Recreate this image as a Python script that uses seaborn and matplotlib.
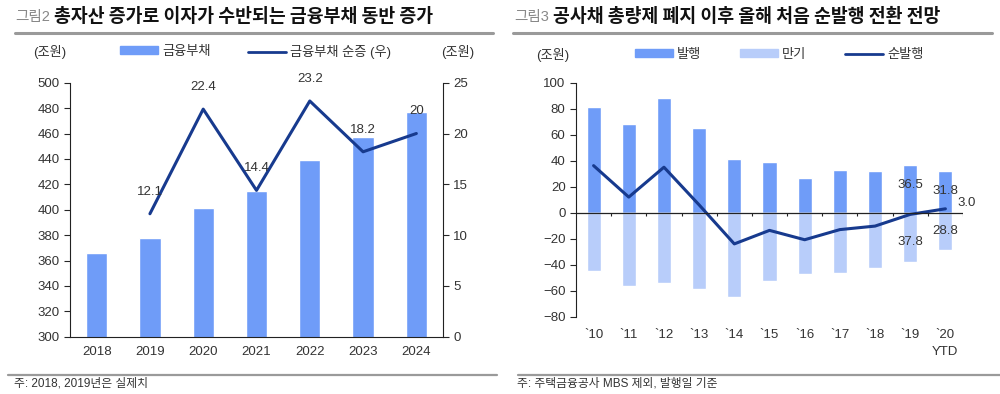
import numpy as np
import pandas as pd
import seaborn as sns
import matplotlib.pyplot as plt
from matplotlib.lines import Line2D
from matplotlib.patches import Patch

sns.set_style("white")
plt.rcParams["font.family"] = ["Liberation Sans", "Noto Sans CJK KR", "DejaVu Sans"]

# left chart: 금융부채 (조원) and 순증 (조원, right axis)
years = ["2018", "2019", "2020", "2021", "2022", "2023", "2024"]
debt = [366, 378, 401, 415, 439, 457, 477]
net_incr = [np.nan, 12.1, 22.4, 14.4, 23.2, 18.2, 20.0]
net_labels = ["", "12.1", "22.4", "14.4", "23.2", "18.2", "20"]

# right chart: 공사채 발행 / 만기 / 순발행 (조원)
periods = ["`10", "`11", "`12", "`13", "`14", "`15", "`16", "`17", "`18", "`19", "`20\nYTD"]
issue = [81, 68, 88.5, 65, 41, 39, 27, 33, 32, 36.5, 31.8]
mature = [-45, -56.4, -53.8, -59, -65, -52.6, -47.2, -46.2, -42.3, -37.8, -28.8]
net_issue = [36.2, 12, 35, 6, -24, -13.6, -20.8, -13, -10.3, -1.3, 3.0]

BLUE = "#6f9cf8"
LIGHT = "#b8cdfa"
NAVY = "#173a8e"
TXT = "#333333"
FS = 9.5

fig = plt.figure(figsize=(10, 3.94), dpi=100)


def fx(px):
    return px / 1000


def fy(py):
    return 1 - py / 394


def legend_item(handle, label, x, y):
    # one legend entry anchored at a pixel position
    fig.legend(handles=[handle], labels=[label], loc="center left",
               bbox_to_anchor=(fx(x), fy(y)), frameon=False, borderpad=0,
               borderaxespad=0, handlelength=2.9, handleheight=0.55,
               handletextpad=0.3, fontsize=FS, labelcolor=TXT)


# ---------------- headers / rules / footers ----------------
fig.text(fx(15), fy(17), "그림2", fontsize=10.5, color="#888888", va="center")
fig.text(fx(54), fy(17), "총자산 증가로 이자가 수반되는 금융부채 동반 증가",
         fontsize=13.2, fontweight="bold", color="#111111", va="center",
         family=["Noto Sans CJK KR"])
fig.text(fx(514), fy(17), "그림3", fontsize=10.5, color="#888888", va="center")
fig.text(fx(553), fy(17), "공사채 총량제 폐지 이후 올해 처음 순발행 전환 전망",
         fontsize=13.2, fontweight="bold", color="#111111", va="center",
         family=["Noto Sans CJK KR"])
for x0, x1 in [(15, 493), (513, 992)]:
    fig.add_artist(Line2D([fx(x0), fx(x1)], [fy(32.5), fy(32.5)], color="#9a9a9a", lw=2.2))
for x0, x1 in [(8, 497), (518, 1000)]:
    fig.add_artist(Line2D([fx(x0), fx(x1)], [fy(375), fy(375)], color="#9a9a9a", lw=1.6))
fig.text(fx(14), fy(384), "주: 2018, 2019년은 실제치", fontsize=8.5, color=TXT, va="center")
fig.text(fx(517), fy(384), "주: 주택금융공사 MBS 제외, 발행일 기준", fontsize=8.5, color=TXT, va="center")

# ---------------- left chart ----------------
ax = fig.add_axes([0.070, 1 - 336.7 / 394, 0.373, 254 / 394])
df_l = pd.DataFrame({"year": years, "debt": debt, "net": net_incr})
sns.barplot(data=df_l, x="year", y="debt", color=BLUE, saturation=1, width=0.4, ax=ax)
ax.set_ylim(300, 500)
ax.set_yticks(np.arange(300, 501, 20))
ax.set_xlim(-0.5, len(years) - 0.5)
ax.set_xlabel("")
ax.set_ylabel("")
ax2 = ax.twinx()
sns.lineplot(x=np.arange(len(years)), y=df_l["net"], color=NAVY, lw=2.2, ax=ax2)
ax2.set_ylim(0, 25)
ax2.set_yticks(np.arange(0, 26, 5))
ax2.set_ylabel("")
for i, (v, lab) in enumerate(zip(net_incr, net_labels)):
    if lab:
        ax2.annotate(lab, (i, v), xytext=(0, 16), textcoords="offset points",
                     ha="center", va="center", fontsize=FS, color=TXT)

for a in (ax, ax2):
    a.spines["top"].set_visible(False)
    for s in ("left", "right", "bottom"):
        a.spines[s].set_color("#222222")
ax.spines["right"].set_visible(False)
ax2.spines["left"].set_visible(False)
ax2.spines["bottom"].set_visible(False)
ax.set_xticks(np.arange(-0.5, len(years), 1), minor=True)
ax.tick_params(axis="x", which="major", length=0, pad=7, labelsize=FS, labelcolor=TXT)
ax.tick_params(axis="x", which="minor", length=4, direction="out", color="#222222")
ax.tick_params(axis="y", length=4, direction="out", labelsize=FS, labelcolor=TXT, left=True)
ax2.tick_params(axis="y", length=4, direction="out", labelsize=FS, labelcolor=TXT, right=True)

# legend row
fig.text(fx(50), fy(52), "(조원)", fontsize=FS, color=TXT, ha="center", va="center")
fig.text(fx(458), fy(52), "(조원)", fontsize=FS, color=TXT, ha="center", va="center")
legend_item(Patch(color=BLUE), "금융부채", 120, 52)
legend_item(Line2D([], [], color=NAVY, lw=2), "금융부채 순증 (우)", 248, 52)

# ---------------- right chart ----------------
bx = fig.add_axes([0.576, 1 - 316.7 / 394, 0.387, 234 / 394])
df_r = pd.DataFrame({"period": periods, "issue": issue, "mature": mature, "net": net_issue})
sns.barplot(data=df_r, x="period", y="issue", color=BLUE, saturation=1, width=0.4, ax=bx)
sns.barplot(data=df_r, x="period", y="mature", color=LIGHT, saturation=1, width=0.4, ax=bx)
sns.lineplot(x=np.arange(len(periods)), y=df_r["net"], color=NAVY, lw=2.2, ax=bx)
bx.set_ylim(-80, 100)
bx.set_yticks(np.arange(-80, 101, 20))
bx.set_yticklabels([f"{v}".replace("-", "\u2212") for v in range(-80, 101, 20)])
bx.set_xlim(-0.5, len(periods) - 0.5)
bx.set_xlabel("")
bx.set_ylabel("")
bx.axhline(0, color="#222222", lw=0.9)
bx.vlines(np.arange(0.5, len(periods), 1), -2.2, 0, color="#222222", lw=0.8)
for s in ("top", "right", "bottom"):
    bx.spines[s].set_visible(False)
bx.spines["left"].set_color("#222222")
bx.tick_params(axis="x", length=0, pad=9, labelsize=FS, labelcolor=TXT)
bx.tick_params(axis="y", length=4, direction="out", labelsize=FS, labelcolor=TXT, left=True)
for lab in bx.get_xticklabels():
    lab.set_va("top")
    lab.set_linespacing(1.5)

# value labels for the last two periods
for i in (len(periods) - 2, len(periods) - 1):
    bx.annotate(f"{issue[i]:.1f}", (i, issue[i]), xytext=(0, -14), textcoords="offset points",
                ha="center", va="center", fontsize=FS, color=TXT)
    bx.annotate(f"{-mature[i]:.1f}", (i, mature[i]), xytext=(0, 14), textcoords="offset points",
                ha="center", va="center", fontsize=FS, color=TXT)
bx.annotate(f"{net_issue[-1]:.1f}", (len(periods) - 1, net_issue[-1]), xytext=(15, 4),
            textcoords="offset points", ha="center", va="center", fontsize=FS, color=TXT)

fig.text(fx(553), fy(55), "(조원)", fontsize=FS, color=TXT, ha="center", va="center")
legend_item(Patch(color=BLUE), "발행", 635, 55)
legend_item(Patch(color=LIGHT), "만기", 740, 55)
legend_item(Line2D([], [], color=NAVY, lw=2), "순발행", 845, 55)

fig.savefig("out.png", dpi=100)
